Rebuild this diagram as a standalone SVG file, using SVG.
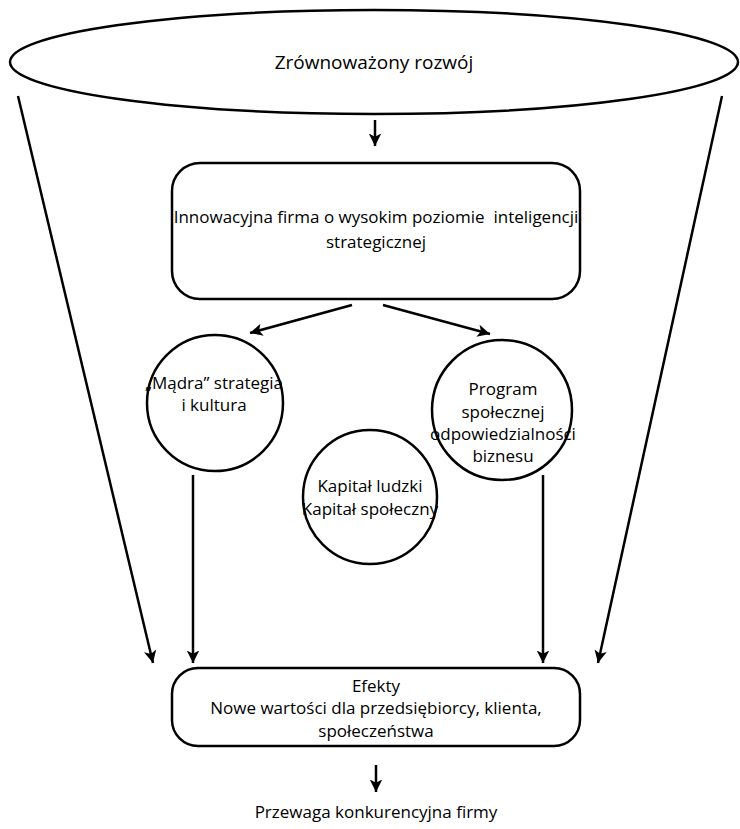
<svg xmlns="http://www.w3.org/2000/svg" width="740" height="829" viewBox="0 0 740 829">
<style>
.s{fill:#fff;stroke:#000;stroke-width:2.5}
.t{font-family:"Open Sans","Liberation Sans",Arial,sans-serif;font-size:17px;fill:#000;text-anchor:middle}
.c{stroke:#000;stroke-width:2.5;fill:none;marker-end:url(#a)}
</style>
<defs>
<marker id="a" viewBox="0 0 10 10" refX="10" refY="5" markerWidth="5" markerHeight="6" markerUnits="strokeWidth" orient="auto">
<path d="M0,0 L10,5 L0,10 L2.5,5 Z" fill="#000"/>
</marker>
</defs>
<rect width="740" height="829" fill="#fff"/>
<g id="connectors">
<line class="c" x1="18" y1="96" x2="153" y2="663"/>
<line class="c" x1="722" y1="96" x2="598" y2="663"/>
<line class="c" x1="375" y1="120" x2="375" y2="146"/>
<line class="c" x1="352" y1="305" x2="250" y2="333"/>
<line class="c" x1="383" y1="305" x2="490" y2="334"/>
<line class="c" x1="193" y1="475" x2="193" y2="663"/>
<line class="c" x1="543" y1="475" x2="543" y2="663"/>
<line class="c" x1="376" y1="765" x2="376" y2="792"/>
</g>
<g id="n1">
<ellipse class="s" cx="374" cy="62" rx="364" ry="52"/>
<text class="t" x="374" y="69" style="font-size:19px">Zrównoważony rozwój</text>
</g>
<g id="n2">
<rect class="s" x="172" y="163" width="408" height="136" rx="28"/>
<text class="t" x="376" y="223" style="white-space:pre">Innowacyjna firma o wysokim poziomie  inteligencji</text>
<text class="t" x="376" y="248">strategicznej</text>
</g>
<g id="n3">
<circle class="s" cx="215" cy="403" r="68"/>
<text class="t" x="214" y="389">„Mądra” strategia</text>
<text class="t" x="214" y="411">i kultura</text>
</g>
<g id="n4">
<circle class="s" cx="370" cy="497" r="67"/>
<text class="t" x="370" y="492">Kapitał ludzki</text>
<text class="t" x="370" y="515">Kapitał społeczny</text>
</g>
<g id="n5">
<circle class="s" cx="502" cy="410" r="70"/>
<text class="t" x="503" y="395">Program</text>
<text class="t" x="503" y="418">społecznej</text>
<text class="t" x="503" y="440">odpowiedzialności</text>
<text class="t" x="503" y="462">biznesu</text>
</g>
<g id="n6">
<rect class="s" x="172" y="668" width="408" height="78" rx="26"/>
<text class="t" x="376" y="692">Efekty</text>
<text class="t" x="376" y="714">Nowe wartości dla przedsiębiorcy, klienta,</text>
<text class="t" x="376" y="737">społeczeństwa</text>
</g>
<g id="n7">
<text class="t" x="376" y="818">Przewaga konkurencyjna firmy</text>
</g>
</svg>
